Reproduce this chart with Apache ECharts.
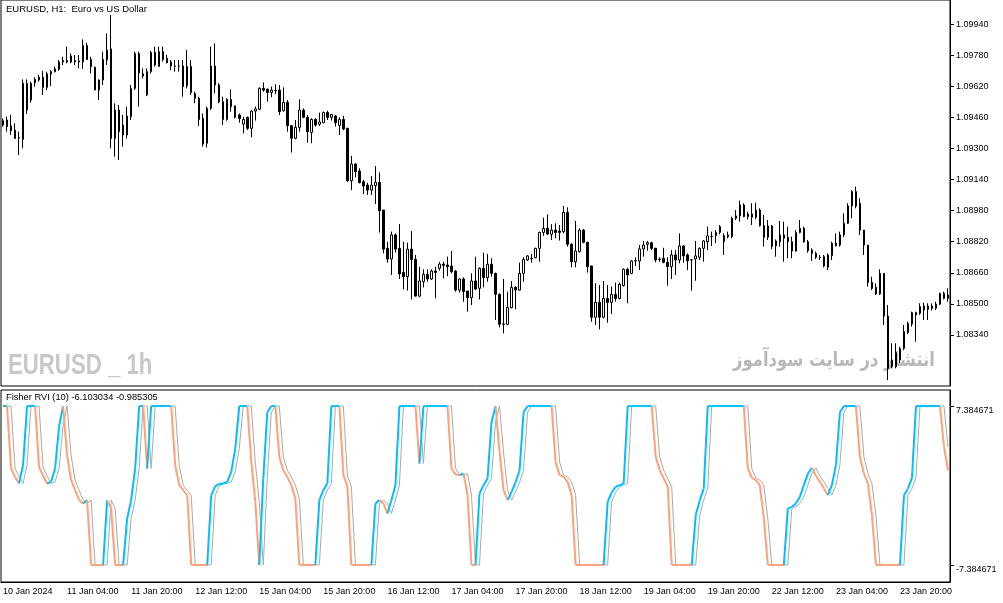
<!DOCTYPE html>
<html><head><meta charset="utf-8">
<script src="https://cdn.jsdelivr.net/npm/echarts@6/dist/echarts.min.js"></script>
<style>html,body{margin:0;padding:0;background:#fff}#c{width:1003px;height:603px}</style>
</head><body><div id="c"></div>
<script>
const tickLabels = ['10 Jan 2024','11 Jan 04:00','11 Jan 20:00','12 Jan 12:00','15 Jan 04:00','15 Jan 20:00','16 Jan 12:00','17 Jan 04:00','17 Jan 20:00','18 Jan 12:00','19 Jan 04:00','19 Jan 20:00','22 Jan 12:00','23 Jan 04:00','23 Jan 20:00'];
const priceTicks = [1.0834,1.085,1.0866,1.0882,1.0898,1.0914,1.093,1.0946,1.0962,1.0978,1.0994];
const fisherTicks = [-7.384671, 7.384671];

const opens = [
1.09443,1.09447,1.09416,1.09395,1.09354,1.09347,1.09498,1.09550,1.09639,1.09667,
1.09667,1.09615,1.09684,1.09696,1.09708,1.09753,1.09753,1.09746,1.09753,1.09751,
1.09746,1.09831,1.09759,1.09718,1.09653,1.09653,1.09756,1.09813,1.09352,1.09498,
1.09421,1.09370,1.09464,1.09610,1.09790,1.09674,1.09576,1.09696,1.09795,1.09722,
1.09799,1.09765,1.09746,1.09725,1.09724,1.09725,1.09622,1.09722,1.09584,1.09559,
1.09455,1.09327,1.09507,1.09725,1.09627,1.09541,1.09450,1.09553,1.09519,1.09473,
1.09426,1.09461,1.09404,1.09493,1.09502,1.09610,1.09605,1.09589,1.09598,1.09601,
1.09495,1.09538,1.09418,1.09353,1.09409,1.09498,1.09461,1.09383,1.09450,1.09425,
1.09433,1.09486,1.09461,1.09468,1.09419,1.09450,1.09404,1.09134,1.09220,1.09184,
1.09129,1.09112,1.09086,1.09109,1.09126,1.08983,1.08786,1.08731,1.08855,1.08786,
1.08662,1.08640,1.08782,1.08729,1.08540,1.08614,1.08652,1.08628,1.08669,1.08683,
1.08705,1.08700,1.08695,1.08669,1.08571,1.08628,1.08566,1.08532,1.08618,1.08580,
1.08683,1.08635,1.08704,1.08657,1.08549,1.08395,1.08395,1.08480,1.08585,1.08571,
1.08657,1.08726,1.08733,1.08738,1.08786,1.08868,1.08889,1.08858,1.08880,1.08875,
1.08872,1.08971,1.08807,1.08717,1.08769,1.08880,1.08817,1.08695,1.08431,1.08508,
1.08431,1.08528,1.08508,1.08549,1.08528,1.08594,1.08678,1.08657,1.08721,1.08721,
1.08783,1.08807,1.08815,1.08786,1.08728,1.08735,1.08714,1.08692,1.08752,1.08726,
1.08798,1.08752,1.08726,1.08731,1.08740,1.08786,1.08820,1.08846,1.08851,1.08868,
1.08820,1.08846,1.08846,1.08941,1.08953,1.09009,1.08949,1.08963,1.08946,1.08983,
1.08903,1.08843,1.08901,1.08798,1.08820,1.08855,1.08843,1.08820,1.08772,1.08868,
1.08889,1.08820,1.08777,1.08760,1.08740,1.08743,1.08688,1.08748,1.08812,1.08803,
1.08855,1.08915,1.09004,1.09078,1.09018,1.08880,1.08803,1.08611,1.08585,1.08551,
1.08657,1.08437,1.08211,1.08176,1.08211,1.08271,1.08352,1.08396,1.08455,1.08451,
1.08468,1.08472,1.08489,1.08477,1.08499,1.08554,1.08528];
const closes = [
1.09421,1.09413,1.09392,1.09352,1.09357,1.09636,1.09636,1.09636,1.09656,1.09653,
1.09615,1.09684,1.09696,1.09710,1.09746,1.09746,1.09746,1.09777,1.09746,1.09746,
1.09831,1.09759,1.09722,1.09601,1.09601,1.09759,1.09807,1.09352,1.09498,1.09387,
1.09370,1.09467,1.09610,1.09790,1.09690,1.09684,1.09696,1.09795,1.09730,1.09799,
1.09759,1.09742,1.09725,1.09724,1.09725,1.09619,1.09722,1.09588,1.09559,1.09450,
1.09323,1.09507,1.09725,1.09627,1.09541,1.09450,1.09553,1.09516,1.09461,1.09455,
1.09450,1.09404,1.09493,1.09504,1.09610,1.09601,1.09589,1.09601,1.09599,1.09490,
1.09538,1.09418,1.09353,1.09409,1.09498,1.09461,1.09387,1.09450,1.09421,1.09437,
1.09486,1.09461,1.09476,1.09433,1.09450,1.09401,1.09134,1.09220,1.09181,1.09124,
1.09107,1.09086,1.09112,1.09126,1.08980,1.08782,1.08731,1.08855,1.08782,1.08654,
1.08640,1.08782,1.08729,1.08540,1.08618,1.08652,1.08628,1.08669,1.08662,1.08705,
1.08697,1.08691,1.08666,1.08571,1.08628,1.08563,1.08532,1.08618,1.08576,1.08683,
1.08635,1.08704,1.08657,1.08549,1.08395,1.08397,1.08482,1.08585,1.08571,1.08657,
1.08729,1.08747,1.08734,1.08786,1.08868,1.08889,1.08860,1.08880,1.08868,1.08868,
1.08971,1.08807,1.08717,1.08772,1.08880,1.08817,1.08692,1.08431,1.08508,1.08431,
1.08528,1.08508,1.08549,1.08528,1.08601,1.08678,1.08649,1.08721,1.08722,1.08783,
1.08803,1.08815,1.08786,1.08726,1.08730,1.08714,1.08692,1.08752,1.08726,1.08798,
1.08747,1.08722,1.08727,1.08747,1.08786,1.08824,1.08850,1.08847,1.08868,1.08898,
1.08851,1.08855,1.08941,1.08953,1.09009,1.08949,1.08963,1.08946,1.08983,1.08903,
1.08843,1.08901,1.08795,1.08824,1.08855,1.08838,1.08820,1.08772,1.08868,1.08889,
1.08820,1.08774,1.08760,1.08740,1.08739,1.08695,1.08752,1.08812,1.08800,1.08855,
1.08915,1.09004,1.09078,1.09004,1.08880,1.08803,1.08611,1.08580,1.08551,1.08657,
1.08437,1.08168,1.08176,1.08249,1.08271,1.08357,1.08400,1.08455,1.08443,1.08486,
1.08489,1.08489,1.08477,1.08499,1.08554,1.08528,1.08546];
const lows = [
1.09413,1.09387,1.09370,1.09352,1.09267,1.09301,1.09478,1.09536,1.09619,1.09644,
1.09576,1.09601,1.09622,1.09692,1.09701,1.09730,1.09739,1.09739,1.09730,1.09713,
1.09710,1.09756,1.09687,1.09601,1.09550,1.09627,1.09730,1.09301,1.09258,1.09241,
1.09310,1.09352,1.09447,1.09601,1.09516,1.09662,1.09570,1.09687,1.09722,1.09722,
1.09748,1.09739,1.09704,1.09696,1.09696,1.09567,1.09610,1.09576,1.09533,1.09416,
1.09310,1.09306,1.09498,1.09584,1.09533,1.09421,1.09443,1.09490,1.09455,1.09433,
1.09378,1.09395,1.09358,1.09444,1.09498,1.09593,1.09541,1.09564,1.09581,1.09473,
1.09490,1.09387,1.09279,1.09347,1.09387,1.09456,1.09330,1.09327,1.09413,1.09416,
1.09430,1.09447,1.09444,1.09413,1.09370,1.09395,1.09129,1.09086,1.09152,1.09121,
1.09066,1.09061,1.09061,1.09014,1.08867,1.08760,1.08712,1.08649,1.08764,1.08628,
1.08575,1.08568,1.08523,1.08537,1.08534,1.08585,1.08614,1.08623,1.08528,1.08671,
1.08631,1.08643,1.08657,1.08563,1.08558,1.08511,1.08460,1.08494,1.08571,1.08523,
1.08585,1.08614,1.08640,1.08417,1.08379,1.08348,1.08391,1.08477,1.08472,1.08568,
1.08614,1.08721,1.08712,1.08735,1.08717,1.08850,1.08855,1.08829,1.08838,1.08826,
1.08863,1.08795,1.08688,1.08688,1.08764,1.08812,1.08661,1.08408,1.08391,1.08369,
1.08425,1.08403,1.08448,1.08511,1.08523,1.08589,1.08503,1.08654,1.08695,1.08674,
1.08743,1.08774,1.08777,1.08714,1.08717,1.08709,1.08594,1.08628,1.08649,1.08709,
1.08712,1.08674,1.08568,1.08619,1.08726,1.08717,1.08777,1.08798,1.08812,1.08858,
1.08752,1.08838,1.08838,1.08932,1.08923,1.08946,1.08935,1.08906,1.08935,1.08898,
1.08795,1.08829,1.08781,1.08743,1.08795,1.08717,1.08735,1.08735,1.08769,1.08863,
1.08815,1.08764,1.08722,1.08731,1.08726,1.08688,1.08674,1.08726,1.08795,1.08795,
1.08843,1.08911,1.08941,1.08992,1.08855,1.08752,1.08589,1.08571,1.08546,1.08546,
1.08391,1.08108,1.08168,1.08168,1.08194,1.08262,1.08345,1.08383,1.08305,1.08443,
1.08417,1.08417,1.08465,1.08468,1.08494,1.08523,1.08511];
const highs = [
1.09455,1.09464,1.09473,1.09430,1.09387,1.09656,1.09656,1.09644,1.09667,1.09679,
1.09699,1.09696,1.09704,1.09722,1.09756,1.09773,1.09825,1.09790,1.09782,1.09782,
1.09862,1.09845,1.09773,1.09722,1.09656,1.09799,1.09893,1.09988,1.09533,1.09524,
1.09473,1.09516,1.09627,1.09799,1.09799,1.09713,1.09713,1.09803,1.09825,1.09825,
1.09825,1.09782,1.09756,1.09756,1.09756,1.09756,1.09807,1.09756,1.09593,1.09567,
1.09481,1.09516,1.09825,1.09842,1.09636,1.09567,1.09559,1.09605,1.09522,1.09481,
1.09464,1.09464,1.09498,1.09516,1.09615,1.09641,1.09610,1.09619,1.09631,1.09627,
1.09615,1.09550,1.09421,1.09447,1.09553,1.09507,1.09473,1.09456,1.09456,1.09485,
1.09490,1.09495,1.09478,1.09473,1.09461,1.09468,1.09407,1.09262,1.09224,1.09198,
1.09138,1.09124,1.09158,1.09210,1.09177,1.08983,1.08820,1.08872,1.08863,1.08911,
1.08820,1.08815,1.08875,1.08752,1.08691,1.08678,1.08678,1.08678,1.08691,1.08717,
1.08717,1.08743,1.08772,1.08674,1.08631,1.08637,1.08566,1.08657,1.08743,1.08688,
1.08764,1.08757,1.08735,1.08661,1.08554,1.08628,1.08563,1.08618,1.08592,1.08712,
1.08740,1.08752,1.08757,1.08789,1.08872,1.08944,1.08961,1.08910,1.08915,1.08906,
1.09004,1.08997,1.08812,1.08927,1.08889,1.08886,1.08820,1.08697,1.08606,1.08597,
1.08618,1.08597,1.08589,1.08609,1.08609,1.08683,1.08686,1.08726,1.08740,1.08803,
1.08824,1.08824,1.08820,1.08789,1.08740,1.08789,1.08740,1.08777,1.08777,1.08863,
1.08803,1.08760,1.08731,1.08824,1.08791,1.08829,1.08898,1.08872,1.08880,1.08906,
1.08863,1.08872,1.08949,1.08983,1.09032,1.09018,1.08975,1.09018,1.09021,1.08992,
1.08958,1.08932,1.08906,1.08832,1.08927,1.08923,1.08898,1.08846,1.08880,1.08932,
1.08898,1.08829,1.08786,1.08769,1.08752,1.08752,1.08760,1.08820,1.08863,1.08872,
1.08966,1.09018,1.09086,1.09104,1.09044,1.08880,1.08803,1.08640,1.08606,1.08678,
1.08657,1.08494,1.08297,1.08297,1.08279,1.08391,1.08408,1.08460,1.08460,1.08503,
1.08506,1.08503,1.08503,1.08511,1.08558,1.08563,1.08580];

const fisher = [
7.38,7.38,1.58,0.80,0.19,1.88,7.38,7.38,7.38,1.73,
0.90,0.19,0.34,1.58,5.5,7.38,2.81,0.49,-0.43,-1.36,
-1.67,-1.36,-7.38,-7.38,-7.38,-7.38,-1.36,-2.13,-7.38,-7.38,
-7.38,-3.06,-1.36,1.58,7.38,7.38,1.58,7.38,7.38,7.38,
7.38,7.38,7.38,1.88,0.03,-0.43,-0.90,-7.38,-7.38,-7.38,
-7.38,-7.38,-0.90,-0.06,0.15,0.19,0.34,1.27,3.43,7.38,
7.38,7.38,2.19,-1.51,-7.38,0.65,6.8,7.38,7.38,2.66,
1.42,0.80,0.03,-1.20,-7.38,-7.38,-7.38,-7.38,-7.38,-1.36,
-0.43,0.19,7.38,7.38,7.38,0.96,-0.12,-7.38,-7.38,-7.38,
-7.38,-7.38,-7.38,-1.67,-1.36,-1.67,-2.60,-1.36,0.03,7.38,
7.38,7.38,7.38,7.38,2.04,7.38,7.38,7.38,7.38,7.38,
7.38,7.38,1.58,1.02,0.96,1.11,-0.90,-7.38,-7.38,-0.74,
0.03,0.65,5.9,7.38,3.12,-0.43,-1.36,-0.59,0.28,1.42,
6.8,7.38,7.38,7.38,7.38,7.38,7.38,7.38,2.19,0.96,
0.80,0.34,-0.90,-7.38,-7.38,-7.38,-7.38,-7.38,-7.38,-7.38,
-7.38,-1.51,-0.65,-0.12,0.03,0.19,7.38,7.38,7.38,7.38,
7.38,7.38,7.38,2.66,1.42,0.65,-0.12,-7.38,-7.38,-7.38,
-7.38,-7.38,-7.38,-2.75,-1.36,-0.28,7.38,7.38,7.38,7.38,
7.38,7.38,7.38,7.38,7.38,7.38,1.58,0.71,0.49,0.03,
-3.06,-7.38,-7.38,-7.38,-7.38,-7.38,-2.13,-1.98,-1.67,-1.05,
0.03,1.11,1.64,0.90,0.34,-0.28,-0.90,0.03,1.88,6.8,
7.38,7.38,7.38,7.38,2.66,1.11,0.19,-2.75,-7.38,-7.38,
-7.38,-7.38,-7.38,-7.38,-7.38,-0.90,-0.28,0.71,7.38,7.38,
7.38,7.38,7.38,7.38,7.38,3.58,1.42];
const signal = [
7.38,7.38,7.38,1.58,0.80,0.19,1.88,7.38,7.38,7.38,
1.73,0.90,0.19,0.34,1.58,5.5,7.38,2.81,0.49,-0.43,
-1.36,-1.67,-1.36,-7.38,-7.38,-7.38,-7.38,-1.36,-2.13,-7.38,
-7.38,-7.38,-3.06,-1.36,1.58,7.38,7.38,1.58,7.38,7.38,
7.38,7.38,7.38,7.38,1.88,0.03,-0.43,-0.90,-7.38,-7.38,
-7.38,-7.38,-7.38,-0.90,-0.06,0.15,0.19,0.34,1.27,3.43,
7.38,7.38,7.38,2.19,-1.51,-7.38,0.65,6.8,7.38,7.38,
2.66,1.42,0.80,0.03,-1.20,-7.38,-7.38,-7.38,-7.38,-7.38,
-1.36,-0.43,0.19,7.38,7.38,7.38,0.96,-0.12,-7.38,-7.38,
-7.38,-7.38,-7.38,-7.38,-1.67,-1.36,-1.67,-2.60,-1.36,0.03,
7.38,7.38,7.38,7.38,7.38,2.04,7.38,7.38,7.38,7.38,
7.38,7.38,7.38,1.58,1.02,0.96,1.11,-0.90,-7.38,-7.38,
-0.74,0.03,0.65,5.9,7.38,3.12,-0.43,-1.36,-0.59,0.28,
1.42,6.8,7.38,7.38,7.38,7.38,7.38,7.38,7.38,2.19,
0.96,0.80,0.34,-0.90,-7.38,-7.38,-7.38,-7.38,-7.38,-7.38,
-7.38,-7.38,-1.51,-0.65,-0.12,0.03,0.19,7.38,7.38,7.38,
7.38,7.38,7.38,7.38,2.66,1.42,0.65,-0.12,-7.38,-7.38,
-7.38,-7.38,-7.38,-7.38,-2.75,-1.36,-0.28,7.38,7.38,7.38,
7.38,7.38,7.38,7.38,7.38,7.38,7.38,1.58,0.71,0.49,
0.03,-3.06,-7.38,-7.38,-7.38,-7.38,-7.38,-2.13,-1.98,-1.67,
-1.05,0.03,1.11,1.64,0.90,0.34,-0.28,-0.90,0.03,1.88,
6.8,7.38,7.38,7.38,7.38,2.66,1.11,0.19,-2.75,-7.38,
-7.38,-7.38,-7.38,-7.38,-7.38,-7.38,-0.90,-0.28,0.71,7.38,
7.38,7.38,7.38,7.38,7.38,7.38,3.58];

const cats = opens.map((_, i) => String(i));
const candles = opens.map((o, i) => [o, closes[i], lows[i], highs[i]]);
const dirs = [];
fisher.forEach((v, i) => {
  if (i === 0) dirs.push(1);
  else if (v > fisher[i - 1]) dirs.push(1);
  else if (v < fisher[i - 1]) dirs.push(-1);
  else dirs.push(dirs[i - 1]);
});
const UP = '#00BFFF', DOWN = '#FFA07A', SIG = '#A9A9A9';
const FONT = '"Liberation Sans", Arial, sans-serif';

const chart = echarts.init(document.getElementById('c'), null, { renderer: 'canvas' });
chart.setOption({
  animation: false,
  backgroundColor: '#fff',
  grid: [
    { left: 1, right: 53, top: 0, height: 386, show: true, borderColor: '#000', borderWidth: 1 },
    { left: 1, right: 53, top: 390, bottom: 21, show: true, borderColor: '#000', borderWidth: 1 }
  ],
  xAxis: [
    { type: 'category', gridIndex: 0, data: cats, show: false },
    { type: 'category', gridIndex: 1, data: cats,
      axisLine: { onZero: false, lineStyle: { color: '#000', width: 1 } },
      axisTick: { interval: 15, alignWithLabel: true, length: 4, lineStyle: { color: '#000' } },
      axisLabel: { interval: 15, align: 'left', margin: 5, color: '#000', fontSize: 9, fontFamily: FONT,
        formatter: (v, i) => tickLabels[i / 16] || '' } }
  ],
  yAxis: [
    { type: 'value', gridIndex: 0, position: 'right', min: 1.08077, max: 1.10065, scale: true,
      splitLine: { show: false },
      axisLine: { show: true, lineStyle: { color: '#000' } },
      axisTick: { show: true, customValues: priceTicks, length: 4, lineStyle: { color: '#000' } },
      axisLabel: { customValues: priceTicks, formatter: v => v.toFixed(5), margin: 6, color: '#000', fontSize: 9, fontFamily: FONT } },
    { type: 'value', gridIndex: 1, position: 'right', min: -8.964, max: 8.871,
      splitLine: { show: false },
      axisLine: { show: true, lineStyle: { color: '#000' } },
      axisTick: { show: true, customValues: fisherTicks, length: 4, lineStyle: { color: '#000' } },
      axisLabel: { customValues: fisherTicks, formatter: v => v.toFixed(6), verticalAlign: 'top', margin: 6, color: '#000', fontSize: 9, fontFamily: FONT } }
  ],
  graphic: [
    { type: 'text', x: 8, y: 351, scaleX: 0.74, z: 0, silent: true,
      style: { text: 'EURUSD _ 1h', verticalAlign: 'top', font: 'bold 30px "Liberation Sans", Arial', fill: '#c8c8c8' } },
    { type: 'text', x: 733, y: 351, scaleX: 0.82, z: 0, silent: true,
      style: { text: 'انتشار در سایت سودآموز', verticalAlign: 'top', font: 'bold 20px "DejaVu Sans"', fill: '#b8b8b8' } },
    { type: 'text', x: 6, y: 4, z: 100,
      style: { text: 'EURUSD, H1:  Euro vs US Dollar', verticalAlign: 'top', font: '9.5px ' + FONT, fill: '#000' } },
    { type: 'text', x: 6, y: 393, z: 100,
      style: { text: 'Fisher RVI (10) -6.103034 -0.985305', verticalAlign: 'top', font: '9.3px ' + FONT, fill: '#000' } }
  ],
  series: [
    { type: 'candlestick', xAxisIndex: 0, yAxisIndex: 0, data: candles, barWidth: 2,
      itemStyle: { color: '#fff', color0: '#000', borderColor: '#000', borderColor0: '#000', borderColorDoji: '#000', borderWidth: 1 },
      emphasis: { disabled: true } },
    { type: 'line', xAxisIndex: 1, yAxisIndex: 1, data: signal, showSymbol: false, symbol: 'none',
      lineStyle: { color: SIG, width: 1 }, z: 2, emphasis: { disabled: true } },
    { type: 'custom', xAxisIndex: 1, yAxisIndex: 1, z: 3,
      data: fisher.map((v, i) => [i, v]),
      encode: { x: 0, y: 1 },
      renderItem: (params, api) => {
        const i = api.value(0);
        if (i === 0) return { type: 'group', children: [] };
        const p0 = api.coord([i - 1, fisher[i - 1]]);
        const p1 = api.coord([i, api.value(1)]);
        return { type: 'line', shape: { x1: p0[0], y1: p0[1], x2: p1[0], y2: p1[1] },
          style: { stroke: dirs[i] > 0 ? UP : DOWN, lineWidth: 2 } };
      } }
  ]
});
</script>
</body></html>
